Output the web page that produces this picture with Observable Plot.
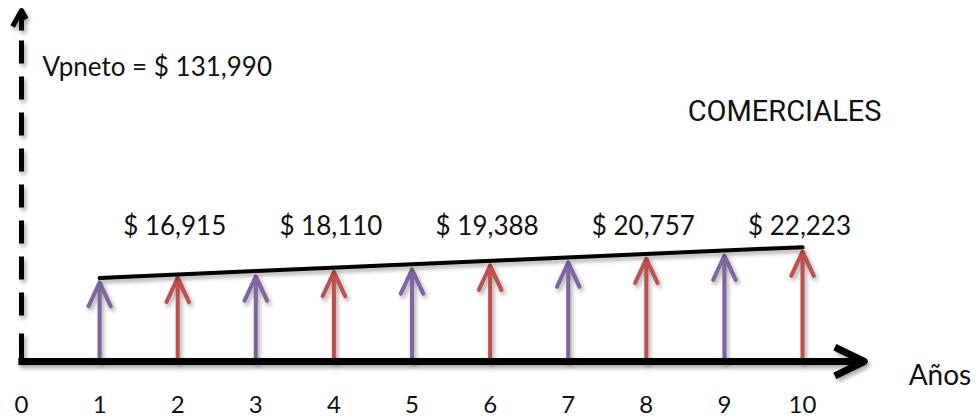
<!DOCTYPE html>
<html><head><meta charset="utf-8">
<script src="https://cdn.jsdelivr.net/npm/d3@7"></script>
<script src="https://cdn.jsdelivr.net/npm/@observablehq/plot@0.6"></script>
<style>
html,body{margin:0;padding:0;background:#fff;}
#chart svg{display:block;}
.shadow{filter:drop-shadow(2px 3px 2px rgba(0,0,0,0.35));}
</style></head><body><div id="chart"></div>
<script>
// ---- data ----
const years = [1, 2, 3, 4, 5, 6, 7, 8, 9, 10];
const flows = [16000, 16915, 17200, 18110, 18600, 19388, 20000, 20757, 21400, 22223];
const labelYears = [2, 4, 6, 8, 10];
const labelTexts = ["$ 16,915", "$ 18,110", "$ 19,388", "$ 20,757", "$ 22,223"];
const tickYears = [0, 1, 2, 3, 4, 5, 6, 7, 8, 9, 10];
const titleText = "Vpneto = $ 131,990";
const categoryText = "COMERCIALES";
const axisTitle = "Años";
const purple = "#8064A2";
const red = "#C0504D";

// ---- tables built from the arrays ----
const data = years.map((year, i) => ({year, value: flows[i], color: year % 2 ? purple : red}));
const labels = labelYears.map((year, i) => ({year, text: labelTexts[i]}));
const ends = [data[0], data[data.length - 1]];

const yMax = 71000;
const axisStart = -0.04, axisEnd = 10.79;

const plot = Plot.plot({
  width: 979, height: 419,
  marginTop: 0, marginRight: 0, marginLeft: 0, marginBottom: 30,
  style: {fontFamily: "Lato", fontSize: "24px", color: "#111", background: "#fff", overflow: "visible"},
  x: {domain: [0, 10], range: [21, 802], ticks: tickYears, tickSize: 0, tickPadding: 6, tickFormat: d => String(d), label: null},
  y: {domain: [0, yMax], range: [361, 10], axis: null},
  marks: [
    // dashed vertical axis with arrow head
    Plot.arrow([0], {x: 0, y1: 0, y2: yMax, stroke: "#000", strokeWidth: 5, headAngle: 58, headLength: 5.5,
      strokeLinecap: "butt", strokeLinejoin: "round",
      strokeDasharray: "28,18,23,13,23,13,23,13,23,13,23,13,23,13,23,13,23,10,1000"}),
    // cash flow arrows
    Plot.arrow(data, {x: "year", y1: 0, y2: "value", stroke: "color", strokeWidth: 4,
      headAngle: 50, headLength: 10, strokeLinejoin: "round", strokeLinecap: "round"}),
    // gradient line over the arrows
    Plot.line(ends, {x: "year", y: "value", stroke: "#000", strokeWidth: 4, dy: -4.5}),
    // horizontal time axis
    Plot.arrow([0], {x1: axisStart, x2: axisEnd, y: 0, stroke: "#000", strokeWidth: 7,
      headAngle: 52, headLength: 7, strokeLinecap: "butt", strokeLinejoin: "round"}),
    // texts
    Plot.text(labels, {x: "year", y: 27300, text: "text", fontSize: 26, fontFamily: "Lato", dx: -3}),
    Plot.text([titleText], {x: 0.27, y: 59360, text: d => d, textAnchor: "start", fontSize: 26, fontFamily: "Lato"}),
    Plot.text([categoryText], {x: 8.53, y: 50570, text: d => d, textAnchor: "start", fontSize: 29, fontFamily: "Roboto"}),
    Plot.text([axisTitle], {x: 11.36, y: -3000, text: d => d, textAnchor: "start", fontSize: 28, fontFamily: "Lato"})
  ]
});
plot.querySelectorAll('g[aria-label="arrow"], g[aria-label="line"]').forEach(g => g.classList.add("shadow"));
document.getElementById("chart").appendChild(plot);
</script></body></html>
